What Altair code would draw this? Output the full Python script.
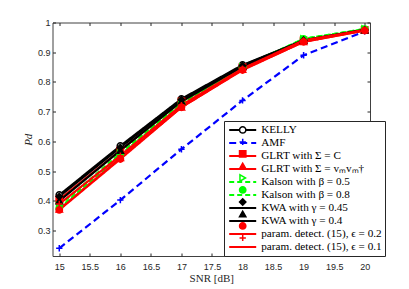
import altair as alt
import pandas as pd

snr = [15, 16, 17, 18, 19, 20]

series_names = [
    "KELLY",
    "AMF",
    "GLRT with Σ = C",
    "GLRT with Σ = vₘvₘ†",
    "Kalson with β = 0.5",
    "Kalson with β = 0.8",
    "KWA with γ = 0.45",
    "KWA with γ = 0.4",
    "param. detect. (15), ϵ = 0.2",
    "param. detect. (15), ϵ = 0.1",
]

kelly = [0.420, 0.585, 0.743, 0.857, 0.940, 0.975]
amf = [0.241, 0.403, 0.574, 0.738, 0.890, 0.970]
glrt_c = [0.405, 0.570, 0.735, 0.850, 0.940, 0.975]
glrt_vv = [0.372, 0.545, 0.715, 0.842, 0.935, 0.973]
kalson_05 = [0.385, 0.560, 0.730, 0.850, 0.945, 0.978]
kalson_08 = [0.375, 0.555, 0.725, 0.848, 0.945, 0.978]
kwa_045 = [0.415, 0.580, 0.740, 0.855, 0.940, 0.975]
kwa_04 = [0.400, 0.570, 0.735, 0.852, 0.940, 0.975]
param_02 = [0.370, 0.541, 0.715, 0.840, 0.935, 0.973]
param_01 = [0.390, 0.552, 0.722, 0.845, 0.940, 0.975]

all_values = [kelly, amf, glrt_c, glrt_vv, kalson_05, kalson_08,
              kwa_045, kwa_04, param_02, param_01]

x_ticks = [15, 15.5, 16, 16.5, 17, 17.5, 18, 18.5, 19, 19.5, 20]
y_ticks = [0.3, 0.4, 0.5, 0.6, 0.7, 0.8, 0.9, 1.0]

# styles
colors = ["#000000", "#0000ff", "#ff0000", "#ff0000", "#00ff00", "#00ff00",
          "#000000", "#000000", "#ff0000", "#ff0000"]
dashes = [[1, 0], [7, 4], [1, 0], [1, 0], [5, 3], [5, 3],
          [1, 0], [1, 0], [1, 0], [1, 0]]
fills = ["white", "transparent", "#ff0000", "#ff0000", "white",
         "#00ff00", "#000000", "#000000", "#ff0000", "transparent"]
plus_path = "M-1,0H1M0,-1V1"
point_shapes = ["circle", plus_path, "square", "triangle-up", "triangle-right",
                "circle", "diamond", "triangle-up", "circle", plus_path]

# separate keys for the marker layer so its legend is not merged with the line legend
marker_keys = [n + " (marker)" for n in series_names]

rows = []
for i, (name, key, vals) in enumerate(zip(series_names, marker_keys, all_values)):
    for s, v in zip(snr, vals):
        rows.append({"snr": s, "pd": v, "series": name, "marker": key, "order": i})
df = pd.DataFrame(rows)

x_scale = alt.Scale(domain=[14.889, 20.087], nice=False, zero=False)
y_scale = alt.Scale(domain=[0.215, 1.0], nice=False, zero=False)

axis_color = "#262626"

x_axis = alt.Axis(values=x_ticks, format="~g", offset=-3, tickSize=3,
                  domain=False, grid=False, labelPadding=6,
                  labelFont="Liberation Sans", labelFontSize=9,
                  labelColor=axis_color, tickColor=axis_color,
                  title="SNR [dB]", titleFont="Liberation Serif",
                  titleFontSize=11, titleFontWeight="normal",
                  titleColor=axis_color, titlePadding=1)
y_axis = alt.Axis(values=y_ticks, format="~g", offset=-3, tickSize=3,
                  domain=False, grid=False, labelPadding=2.5,
                  labelFont="Liberation Sans", labelFontSize=9,
                  labelColor=axis_color, tickColor=axis_color,
                  title="Pd", titleFont="Liberation Serif",
                  titleFontStyle="italic", titleFontSize=11,
                  titleFontWeight="normal", titleColor=axis_color,
                  titlePadding=4)
x_axis_top = alt.Axis(orient="top", values=x_ticks, offset=-3, tickSize=3,
                      domain=False, grid=False, labels=False, title=None,
                      tickColor=axis_color)
y_axis_right = alt.Axis(orient="right", values=y_ticks, offset=-3, tickSize=3,
                        domain=False, grid=False, labels=False, title=None,
                        tickColor=axis_color)

LEG_X = 171.5
LEG_Y = 98.5
ROW_H = 11.9

# legend of line segments + labels (with box)
legend_lines = alt.Legend(
    title=None, orient="none", legendX=LEG_X, legendY=LEG_Y,
    symbolType="stroke", symbolSize=729, symbolStrokeWidth=2,
    symbolOffset=1.2, labelOffset=4, clipHeight=ROW_H,
    labelFont="Liberation Serif", labelFontSize=11.2, labelColor="black",
    labelLimit=400, padding=3, rowPadding=0,
    strokeColor=axis_color, fillColor="white", symbolOpacity=1, zindex=0,
)

# legend of markers, overlaid on the first (no labels, no box)
legend_markers = alt.Legend(
    title=None, orient="none", legendX=LEG_X, legendY=LEG_Y,
    symbolSize=40, symbolStrokeWidth=1.5, symbolOffset=10.7,
    clipHeight=ROW_H, labelFontSize=10, labelExpr="''", labelOpacity=0,
    padding=3, rowPadding=0, symbolOpacity=1, zindex=1,
)

base = alt.Chart(df)

lines = base.mark_line(strokeWidth=2.2).encode(
    x=alt.X("snr:Q", scale=x_scale, axis=x_axis),
    y=alt.Y("pd:Q", scale=y_scale, axis=y_axis),
    color=alt.Color("series:N",
                    scale=alt.Scale(domain=series_names, range=colors),
                    sort=series_names, legend=legend_lines),
    strokeDash=alt.StrokeDash("series:N",
                              scale=alt.Scale(domain=series_names, range=dashes),
                              sort=series_names, legend=legend_lines),
    order=alt.Order("order:Q"),
)

points = base.mark_point(size=40, strokeWidth=1.5, opacity=1, filled=False).encode(
    x=alt.X("snr:Q", scale=x_scale, axis=None),
    y=alt.Y("pd:Q", scale=y_scale, axis=None),
    stroke=alt.Stroke("marker:N",
                      scale=alt.Scale(domain=marker_keys, range=colors),
                      sort=marker_keys, legend=legend_markers),
    fill=alt.Fill("marker:N",
                  scale=alt.Scale(domain=marker_keys, range=fills),
                  sort=marker_keys, legend=legend_markers),
    shape=alt.Shape("marker:N",
                    scale=alt.Scale(domain=marker_keys, range=point_shapes),
                    sort=marker_keys, legend=legend_markers),
    order=alt.Order("order:Q"),
)

frame = base.mark_point(opacity=0).encode(
    x=alt.X("snr:Q", scale=x_scale, axis=x_axis_top),
    y=alt.Y("pd:Q", scale=y_scale, axis=y_axis_right),
)

chart = alt.layer(lines, points, frame).resolve_axis(
    x="independent", y="independent"
).properties(
    width=317.5, height=233.5,
    padding={"left": 44.5, "top": 14.5, "right": 31, "bottom": 33},
    autosize=alt.AutoSizeParams(type="none"),
    background="white",
).configure_view(stroke="#404040", strokeWidth=1)

chart.save("out.html", embed_options={"renderer": "svg", "actions": False})
